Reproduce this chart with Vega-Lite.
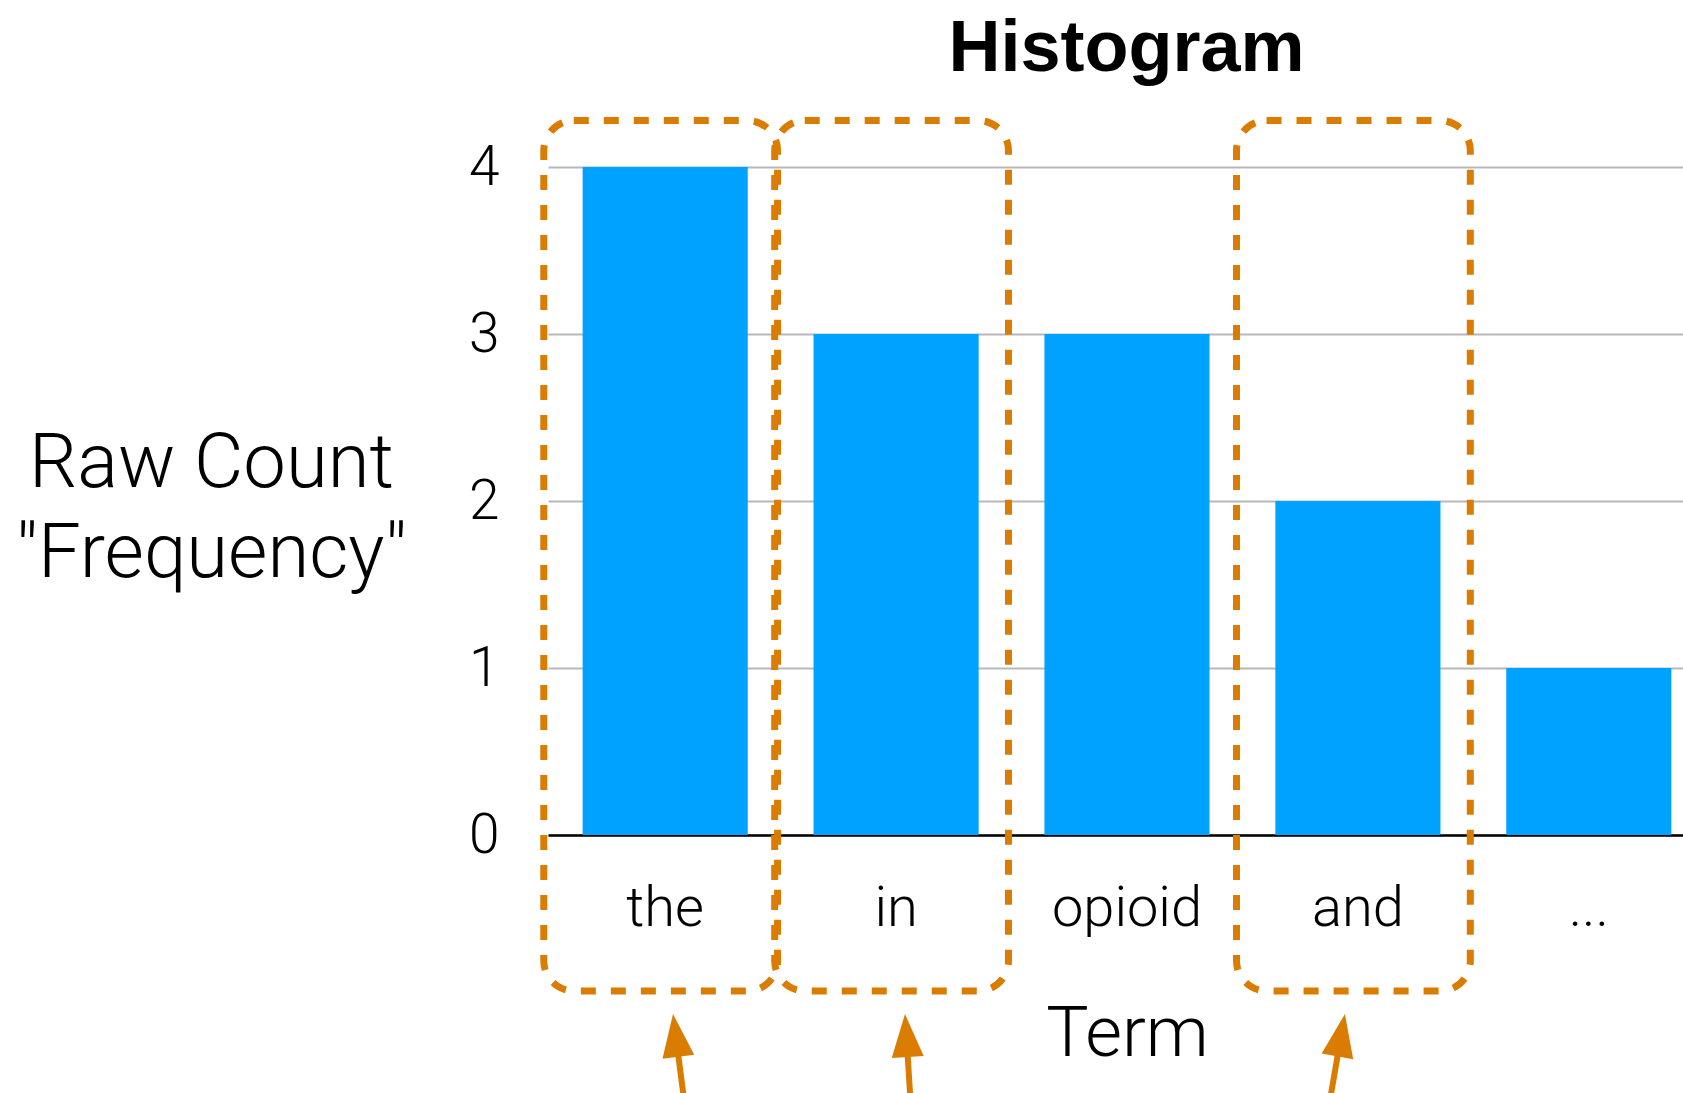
{
  "$schema": "https://vega.github.io/schema/vega-lite/v6.json",
  "autosize": {"type": "none"},
  "padding": {"left": 548, "top": 167, "right": 0, "bottom": 258},
  "width": 1135,
  "height": 668,
  "background": "white",
  "config": {"view": {"stroke": null}},
  "title": {"text": "Histogram", "font": "Liberation Sans", "fontSize": 72, "fontWeight": "bold", "color": "black", "anchor": "middle", "frame": "group", "baseline": "alphabetic", "offset": 48, "dx": 11, "dy": 74},
  "data": {"values": [
    {"term": "the", "count": 4, "highlighted": true},
    {"term": "in", "count": 3, "highlighted": true},
    {"term": "opioid", "count": 3, "highlighted": false},
    {"term": "and", "count": 2, "highlighted": true},
    {"term": "...", "count": 1, "highlighted": false}
  ]},
  "encoding": {
    "x": {
      "field": "term", "type": "nominal", "sort": null,
      "scale": {"range": [0, 1158], "paddingInner": 0.285, "paddingOuter": 0.15},
      "axis": {
        "title": "Term", "titleFont": "Roboto", "titleFontWeight": 300, "titleFontSize": 71, "titleColor": "black",
        "titleY": 220, "titleBaseline": "alphabetic",
        "labelAngle": 0, "labelFont": "Roboto", "labelFontWeight": 300, "labelFontSize": 56, "labelColor": "black",
        "labelBaseline": "alphabetic", "labelPadding": 90, "ticks": false,
        "domainColor": "black", "domainWidth": 2.5, "grid": false
      }
    }
  },
  "layer": [
    {
      "mark": {"type": "bar", "color": "#00A2FF"},
      "encoding": {
        "y": {
          "field": "count", "type": "quantitative",
          "scale": {"domain": [0, 4], "nice": false, "zero": true},
          "axis": {
            "title": ["Raw Count", "\"Frequency\""], "titleAngle": 0, "titleAlign": "center", "titleBaseline": "alphabetic",
            "titleX": -337, "titleY": 319, "titleLineHeight": 90,
            "titleFont": "Roboto", "titleFontWeight": 300, "titleFontSize": 76, "titleColor": "black",
            "values": [0, 1, 2, 3, 4], "format": "d",
            "labelFont": "Roboto", "labelFontWeight": 300, "labelFontSize": 55, "labelColor": "black",
            "labelPadding": 49, "labelFlush": false, "labelOverlap": false, "labelBaseline": "middle",
            "ticks": false, "domain": false,
            "grid": true, "gridColor": "#B8B8B8", "gridWidth": 2
          }
        }
      }
    },
    {
      "transform": [{"filter": "datum.highlighted"}],
      "mark": {"type": "rect", "filled": false, "stroke": "#DA7C00", "strokeWidth": 7, "strokeDash": [15, 15], "cornerRadius": 30, "width": {"band": 1.416}, "xOffset": -4.5, "clip": false},
      "encoding": {
        "y": {"datum": 4.278, "type": "quantitative"},
        "y2": {"datum": -0.934}
      }
    },
    {
      "transform": [{"filter": "datum.term === 'the'"}],
      "layer": [
        {"mark": {"type": "rule", "color": "#DA7C00", "strokeWidth": 6, "xOffset": 11.6, "x2Offset": 20.2},
         "encoding": {"x2": {"field": "term"}, "y": {"datum": -1.251, "type": "quantitative"}, "y2": {"datum": -1.647}}},
        {"mark": {"type": "point", "shape": "M0,0L0.744,2L-0.744,2Z", "filled": true, "fill": "#DA7C00", "stroke": null, "opacity": 1, "size": 1849, "angle": -7.2, "xOffset": 7.8},
         "encoding": {"y": {"datum": -1.072, "type": "quantitative"}}}
      ]
    },
    {
      "transform": [{"filter": "datum.term === 'in'"}],
      "layer": [
        {"mark": {"type": "rule", "color": "#DA7C00", "strokeWidth": 6, "xOffset": 10.8, "x2Offset": 15},
         "encoding": {"x2": {"field": "term"}, "y": {"datum": -1.251, "type": "quantitative"}, "y2": {"datum": -1.647}}},
        {"mark": {"type": "point", "shape": "M0,0L0.744,2L-0.744,2Z", "filled": true, "fill": "#DA7C00", "stroke": null, "opacity": 1, "size": 1849, "angle": -3.6, "xOffset": 8.9},
         "encoding": {"y": {"datum": -1.072, "type": "quantitative"}}}
      ]
    },
    {
      "transform": [{"filter": "datum.term === 'and'"}],
      "layer": [
        {"mark": {"type": "rule", "color": "#DA7C00", "strokeWidth": 6, "xOffset": -18.3, "x2Offset": -29.6},
         "encoding": {"x2": {"field": "term"}, "y": {"datum": -1.251, "type": "quantitative"}, "y2": {"datum": -1.647}}},
        {"mark": {"type": "point", "shape": "M0,0L0.744,2L-0.744,2Z", "filled": true, "fill": "#DA7C00", "stroke": null, "opacity": 1, "size": 1849, "angle": 10, "xOffset": -13},
         "encoding": {"y": {"datum": -1.072, "type": "quantitative"}}}
      ]
    }
  ]
}
